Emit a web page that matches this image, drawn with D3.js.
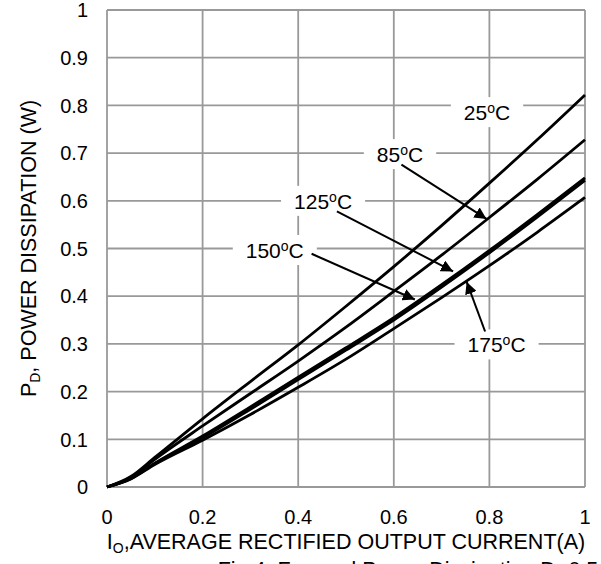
<!DOCTYPE html>
<html>
<head>
    <title>Forward Power Dissipation</title>
    <script src="https://cdnjs.cloudflare.com/ajax/libs/d3/7.8.5/d3.min.js"></script>
    <style>
        body { margin: 0; background: #fff; }
        svg { display: block; font-family: Arial, "Liberation Sans", sans-serif; }
        .grid line { stroke: #999; stroke-width: 1.8; }
        .tick-label { font-size: 20px; fill: #000; }
        .title { font-size: 21.5px; fill: #000; }
        .curve { fill: none; stroke: #000; stroke-width: 2.8; }
        .note { font-size: 21px; fill: #000; }
        .arrow { stroke: #000; stroke-width: 2; }
    </style>
</head>
<body>
    <div id="chart"></div>

    <script>
        // Current (A) sample points
        const current = [0, 0.05, 0.1, 0.2, 0.3, 0.4, 0.5, 0.6, 0.7, 0.8, 0.9, 1.0];

        // Power dissipation (W) per junction temperature
        const pd25  = [0, 0.022, 0.062, 0.143, 0.221, 0.298, 0.379, 0.462, 0.548, 0.637, 0.728, 0.822];
        const pd85  = [0, 0.020, 0.058, 0.128, 0.196, 0.264, 0.335, 0.410, 0.486, 0.565, 0.645, 0.728];
        const pd125 = [0, 0.018, 0.050, 0.107, 0.168, 0.230, 0.292, 0.355, 0.424, 0.496, 0.571, 0.648];
        const pd150 = [0, 0.018, 0.049, 0.103, 0.163, 0.225, 0.287, 0.350, 0.419, 0.491, 0.566, 0.643];
        const pd175 = [0, 0.017, 0.047, 0.098, 0.152, 0.209, 0.268, 0.332, 0.397, 0.464, 0.534, 0.607];

        const temps = ['25', '85', '125', '150', '175'];
        const series = [pd25, pd85, pd125, pd150, pd175];

        const xTicks = [0, 0.2, 0.4, 0.6, 0.8, 1];
        const yTicks = [0, 0.1, 0.2, 0.3, 0.4, 0.5, 0.6, 0.7, 0.8, 0.9, 1];

        // label centres and arrows, in data units
        const labelAt  = [[0.795, 0.785], [0.613, 0.697], [0.452, 0.599], [0.351, 0.496], [0.815, 0.298]];
        const arrowFrom = [null, [0.616, 0.676], [0.481, 0.578], [0.428, 0.489], [0.791, 0.326]];
        const arrowTo   = [null, [0.794, 0.562], [0.724, 0.452], [0.644, 0.393], [0.7525, 0.430]];

        const width = 601;
        const height = 564;
        const margin = {top: 10, right: 16, bottom: 77, left: 107};

        const svg = d3.select('#chart')
            .append('svg')
            .attr('width', width)
            .attr('height', height);

        const x = d3.scaleLinear()
            .domain([0, 1])
            .range([margin.left, width - margin.right]);

        const y = d3.scaleLinear()
            .domain([0, 1])
            .range([height - margin.bottom, margin.top]);

        // grid
        const grid = svg.append('g').attr('class', 'grid');
        grid.selectAll('.gx')
            .data(xTicks)
            .join('line')
            .attr('x1', d => x(d)).attr('x2', d => x(d))
            .attr('y1', y(0)).attr('y2', y(1));
        grid.selectAll('.gy')
            .data(yTicks)
            .join('line')
            .attr('x1', x(0)).attr('x2', x(1))
            .attr('y1', d => y(d)).attr('y2', d => y(d));

        // tick labels
        svg.append('g')
            .selectAll('text')
            .data(yTicks)
            .join('text')
            .attr('class', 'tick-label')
            .attr('x', x(0) - 19)
            .attr('y', d => y(d))
            .attr('dy', '0.36em')
            .attr('text-anchor', 'end')
            .text(d => d3.format('')(d));

        svg.append('g')
            .selectAll('text')
            .data(xTicks)
            .join('text')
            .attr('class', 'tick-label')
            .attr('x', d => x(d))
            .attr('y', y(0) + 37)
            .attr('text-anchor', 'middle')
            .text(d => d3.format('')(d));

        // curves
        const line = d3.line()
            .x((d, i) => x(current[i]))
            .y(d => y(d))
            .curve(d3.curveMonotoneX);

        svg.append('g')
            .selectAll('path')
            .data(series)
            .join('path')
            .attr('class', 'curve')
            .attr('d', line);

        // arrow heads
        svg.append('defs').append('marker')
            .attr('id', 'head')
            .attr('viewBox', '0 0 10 10')
            .attr('refX', 10).attr('refY', 5)
            .attr('markerWidth', 6).attr('markerHeight', 6)
            .attr('markerUnits', 'strokeWidth')
            .attr('orient', 'auto')
            .append('path')
            .attr('d', 'M0,0L10,5L0,10Z')
            .attr('fill', '#000');

        // labels with white boxes
        const notes = svg.append('g');
        temps.forEach((t, i) => {
            const g = notes.append('g');
            const rect = g.append('rect').attr('fill', '#fff');
            const txt = g.append('text')
                .attr('class', 'note')
                .attr('x', x(labelAt[i][0]))
                .attr('y', y(labelAt[i][1]))
                .attr('dy', '0.36em')
                .attr('text-anchor', 'middle');
            txt.append('tspan').text(t);
            txt.append('tspan').attr('font-size', 14).attr('dy', -7).text('o');
            txt.append('tspan').attr('dy', 7).text('C');
            const bb = txt.node().getBBox();
            rect.attr('x', bb.x - 13).attr('y', bb.y - 3)
                .attr('width', bb.width + 26).attr('height', bb.height + 6);
        });

        notes.selectAll('line')
            .data(temps.map((t, i) => i).filter(i => arrowFrom[i]))
            .join('line')
            .attr('class', 'arrow')
            .attr('x1', i => x(arrowFrom[i][0])).attr('y1', i => y(arrowFrom[i][1]))
            .attr('x2', i => x(arrowTo[i][0])).attr('y2', i => y(arrowTo[i][1]))
            .attr('marker-end', 'url(#head)');

        // axis titles
        const xt = svg.append('text')
            .attr('class', 'title')
            .attr('x', (x(0) + x(1)) / 2)
            .attr('y', y(0) + 62)
            .attr('text-anchor', 'middle');
        xt.append('tspan').text('I');
        xt.append('tspan').attr('font-size', 14).attr('dy', 4).text('O');
        xt.append('tspan').attr('dy', -4).text(',AVERAGE RECTIFIED OUTPUT CURRENT(A)');

        const yt = svg.append('text')
            .attr('class', 'title')
            .attr('transform', `translate(36,${(y(0) + y(1)) / 2}) rotate(-90)`)
            .attr('text-anchor', 'middle');
        yt.append('tspan').text('P');
        yt.append('tspan').attr('font-size', 14).attr('dy', 4).text('D');
        yt.append('tspan').attr('dy', -4).text(', POWER DISSIPATION (W)');

        // caption, mostly below the frame
        svg.append('text')
            .attr('class', 'title')
            .attr('x', (x(0) + x(1)) / 2 + 62)
            .attr('y', y(0) + 90)
            .attr('text-anchor', 'middle')
            .text('Fig.4. Forward Power Dissipation D=0.5');
    </script>
</body>
</html>
